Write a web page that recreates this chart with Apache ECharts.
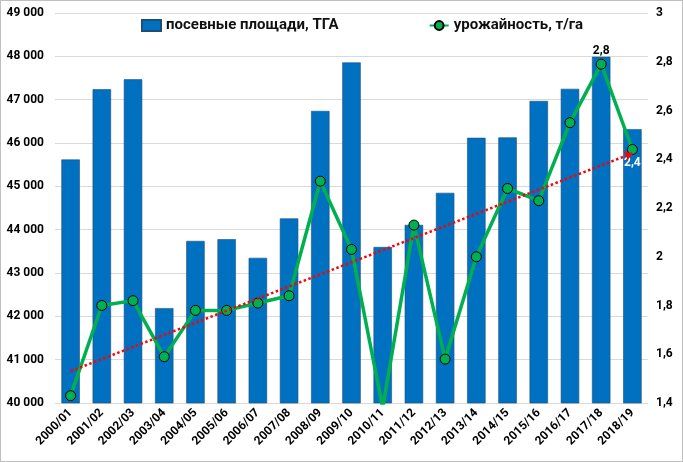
<!DOCTYPE html>
<html lang="ru">
<head>
  <meta charset="UTF-8">
  <title>Посевные площади и урожайность</title>
  <script src="https://cdn.jsdelivr.net/npm/echarts@6/dist/echarts.min.js"></script>
  <style>
    body { margin: 0; background: #fff; }
    #chart { width: 681px; height: 460px; border: 1px solid #bfbfbf; }
  </style>
</head>
<body>
<div id="chart"></div>
<script>
// сезоны
var seasons = ['2000/01', '2001/02', '2002/03', '2003/04', '2004/05', '2005/06', '2006/07',
  '2007/08', '2008/09', '2009/10', '2010/11', '2011/12', '2012/13', '2013/14', '2014/15',
  '2015/16', '2016/17', '2017/18', '2018/19'];
// посевные площади, ТГА
var area = [45620, 47240, 47470, 42190, 43740, 43780, 43350, 44260, 46740, 47860,
  43600, 44110, 44850, 46120, 46130, 46970, 47250, 47990, 46320];
// урожайность, т/га
var yieldT = [1.43, 1.80, 1.82, 1.59, 1.78, 1.78, 1.81, 1.84, 2.31, 2.03,
  1.38, 2.13, 1.58, 2.00, 2.28, 2.23, 2.55, 2.79, 2.44];

var font = 'Roboto, "Noto Sans", sans-serif';

// линейный тренд урожайности (МНК)
var n = yieldT.length, mx = (n - 1) / 2, my = 0;
yieldT.forEach(function (v) { my += v / n; });
var sxy = 0, sxx = 0;
yieldT.forEach(function (v, i) { sxy += (i - mx) * (v - my); sxx += (i - mx) * (i - mx); });
var slope = sxy / sxx, icpt = my - slope * mx;

function comma(v) { return String(v).replace('.', ','); }

var lineData = yieldT.map(function (v, i) {
  var item = { value: v };
  if (i === n - 2) {
    item.label = { show: true, position: 'top', distance: 2, color: '#000',
      formatter: function (p) { return comma(p.value.toFixed(1)); } };
  }
  if (i === n - 1) {
    item.label = { show: true, position: 'bottom', distance: 2, color: '#fff',
      formatter: function (p) { return comma(p.value.toFixed(1)); } };
  }
  return item;
});

var chart = echarts.init(document.getElementById('chart'));
chart.setOption({
  animation: false,
  textStyle: { fontFamily: font },
  legend: {
    top: 12, left: 135, itemGap: 90,
    itemWidth: 19, itemHeight: 11,
    textStyle: { fontSize: 15, fontWeight: 'bold', color: '#111', fontFamily: font },
    data: [
      { name: 'посевные площади, ТГА', icon: 'rect' },
      { name: 'урожайность, т/га' }
    ]
  },
  grid: { left: 54, right: 34, top: 12, bottom: 58 },
  xAxis: {
    type: 'category',
    data: seasons,
    axisLine: { lineStyle: { color: '#d9d9d9' } },
    axisTick: { show: false },
    axisLabel: { rotate: 45, fontSize: 12, fontWeight: 'bold', color: '#000', margin: 8 }
  },
  yAxis: [{
    type: 'value', min: 40000, max: 49000, interval: 1000,
    axisLine: { show: false }, axisTick: { show: false },
    splitLine: { lineStyle: { color: '#d9d9d9' } },
    axisLabel: { fontSize: 12, fontWeight: 'bold', color: '#000', margin: 11,
      formatter: function (v) { return String(v).replace(/\B(?=(\d{3})+$)/, ' '); } }
  }, {
    type: 'value', min: 1.4, max: 3, interval: 0.2,
    axisLine: { show: false }, axisTick: { show: false },
    splitLine: { show: false },
    axisLabel: { fontSize: 12, fontWeight: 'bold', color: '#000', margin: 8,
      formatter: function (v) { return comma(+v.toFixed(1)); } }
  }],
  series: [{
    name: 'посевные площади, ТГА',
    type: 'bar',
    data: area,
    barWidth: '59%',
    itemStyle: { color: '#0070C0', borderColor: '#1b4f7a', borderWidth: 0.6 }
  }, {
    name: 'урожайность, т/га',
    type: 'line',
    yAxisIndex: 1,
    data: lineData,
    clip: true,
    symbol: 'circle',
    symbolSize: 10,
    lineStyle: { color: '#00B050', width: 3.5 },
    itemStyle: { color: '#00B050', borderColor: '#000', borderWidth: 1 },
    label: { fontSize: 12, fontWeight: 'bold' },
    markLine: {
      silent: true,
      symbol: ['none', 'arrow'],
      symbolSize: 8,
      label: { show: false },
      lineStyle: { color: '#ff0000', type: 'dotted', width: 2.5 },
      data: [[
        { coord: [seasons[0], icpt] },
        { coord: [seasons[n - 1], icpt + slope * (n - 1)] }
      ]]
    }
  }]
});
</script>
</body>
</html>
